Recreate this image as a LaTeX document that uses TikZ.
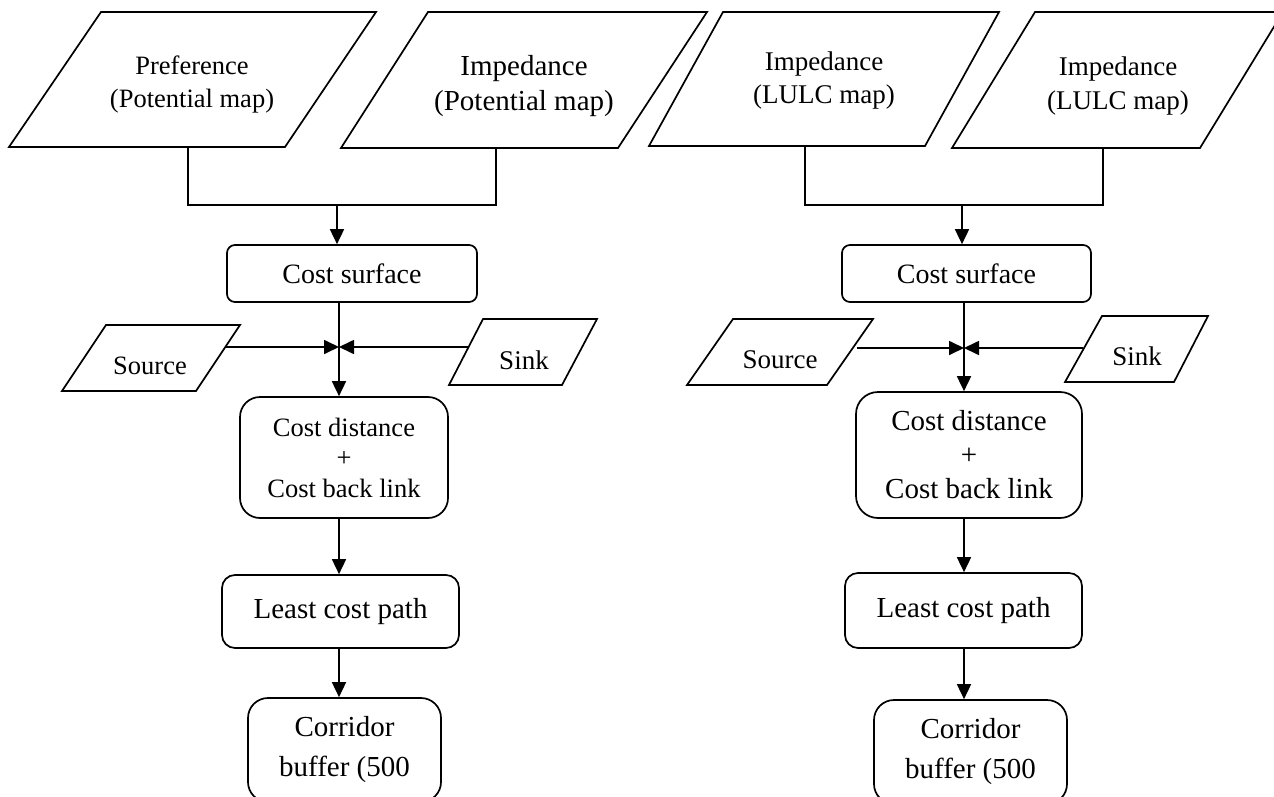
\documentclass[tikz,border=0pt]{standalone}
\usepackage{fontspec}
\setmainfont{Liberation Serif}
\usetikzlibrary{arrows.meta}
\newcommand{\fsz}[2]{\fontsize{#1}{#2}\selectfont}
\tikzset{
  rbox/.style={draw, rounded corners=#1, line width=1.7pt, align=center, inner sep=0pt},
  lbl/.style={align=center, inner sep=0pt},
  shp/.style={draw, line width=1.7pt, line join=miter},
  conn/.style={line width=1.7pt},
  arr/.style={conn, -{Triangle[length=15pt,width=14pt]}},
}
\begin{document}
\begin{tikzpicture}[x=1pt,y=-1pt]
\useasboundingbox (0,0) rectangle (1274,797);
\clip (0,0) rectangle (1274,797);

% ===== LEFT =====
\draw[shp] (101,12)--(376,12)--(285,147)--(9,147)--cycle;
\node[lbl,font=\fsz{26.5}{33}] (p1) at (192,84) {Preference\\(Potential map)};
\draw[shp] (428,12)--(707,12)--(618,148)--(341,148)--cycle;
\node[lbl,font=\fsz{29}{35}] (p2) at (524,86) {Impedance\\(Potential map)};
\coordinate (p1b) at (188,147);
\coordinate (p2b) at (496,148);
\coordinate (m1) at (337,205);
\draw[conn] (p1b) |- (m1) -| (p2b);

\node[rbox=8pt, minimum width=250pt, minimum height=57pt, font=\fsz{28}{34}] (cs1) at (352,273.5) {Cost surface};
\draw[arr] (m1) -- (cs1.north -| m1);

\draw[shp] (106,325)--(240,325)--(196,391)--(62,391)--cycle;
\node[lbl,font=\fsz{26.5}{32}] (so1) at (150,366) {Source};
\draw[shp] (483,319)--(597,319)--(562,385)--(449,385)--cycle;
\node[lbl,font=\fsz{27}{32}] (si1) at (524,360) {Sink};
\coordinate (so1e) at (226,347);
\coordinate (si1e) at (469,347);
\coordinate (j1) at (339,347);

\node[rbox=20pt, minimum width=208pt, minimum height=121pt, font=\fsz{26.5}{30.5}] (cd1) at (344,457.5) {Cost distance\\+\\Cost back link};
\draw[arr] (cs1.south -| j1) -- (cd1.north -| j1);
\draw[arr] (so1e) -- (j1);
\draw[arr] (si1e) -- (j1);

\node[rbox=13pt, minimum width=237pt, minimum height=73pt, font=\fsz{29}{34}] (lc1) at (340.5,611.5) {Least cost path};
\draw[arr] (cd1.south -| j1) -- (lc1.north -| j1);
\node[rbox=20pt, minimum width=193pt, minimum height=104pt, font=\fsz{29}{40}] (co1) at (344.5,750) {Corridor\\buffer (500};
\draw[arr] (lc1.south -| j1) -- (co1.north -| j1);

% ===== RIGHT =====
\draw[shp] (723,12)--(999,12)--(925,146)--(649,146)--cycle;
\node[lbl,font=\fsz{27}{33}] (p3) at (824,81) {Impedance\\(LULC map)};
\draw[shp] (1035,12)--(1283,12)--(1200,148)--(952,148)--cycle;
\node[lbl,font=\fsz{27}{34}] (p4) at (1118,86) {Impedance\\(LULC map)};
\coordinate (p3b) at (805,146);
\coordinate (p4b) at (1103,148);
\coordinate (m2) at (962,205);
\draw[conn] (p3b) |- (m2) -| (p4b);

\node[rbox=8pt, minimum width=249pt, minimum height=57pt, font=\fsz{28}{34}] (cs2) at (966.5,273.5) {Cost surface};
\draw[arr] (m2) -- (cs2.north -| m2);

\draw[shp] (733,319)--(873,319)--(827,385)--(687,385)--cycle;
\node[lbl,font=\fsz{27}{32}] (so2) at (780,360) {Source};
\draw[shp] (1102,316)--(1208,316)--(1174,382)--(1065,382)--cycle;
\node[lbl,font=\fsz{27}{32}] (si2) at (1137,356) {Sink};
\coordinate (so2e) at (857,348);
\coordinate (si2e) at (1083,348);
\coordinate (j2) at (964,348);

\node[rbox=22pt, minimum width=226pt, minimum height=126pt, font=\fsz{29}{34}] (cd2) at (969,455) {Cost distance\\+\\Cost back link};
\draw[arr] (cs2.south -| j2) -- (cd2.north -| j2);
\draw[arr] (so2e) -- (j2);
\draw[arr] (si2e) -- (j2);

\node[rbox=13pt, minimum width=237pt, minimum height=75pt, font=\fsz{29}{34}] (lc2) at (963.5,610.5) {Least cost path};
\draw[arr] (cd2.south -| j2) -- (lc2.north -| j2);
\node[rbox=20pt, minimum width=193pt, minimum height=104pt, font=\fsz{29}{40}] (co2) at (970.5,752) {Corridor\\buffer (500};
\draw[arr] (lc2.south -| j2) -- (co2.north -| j2);
\end{tikzpicture}
\end{document}
